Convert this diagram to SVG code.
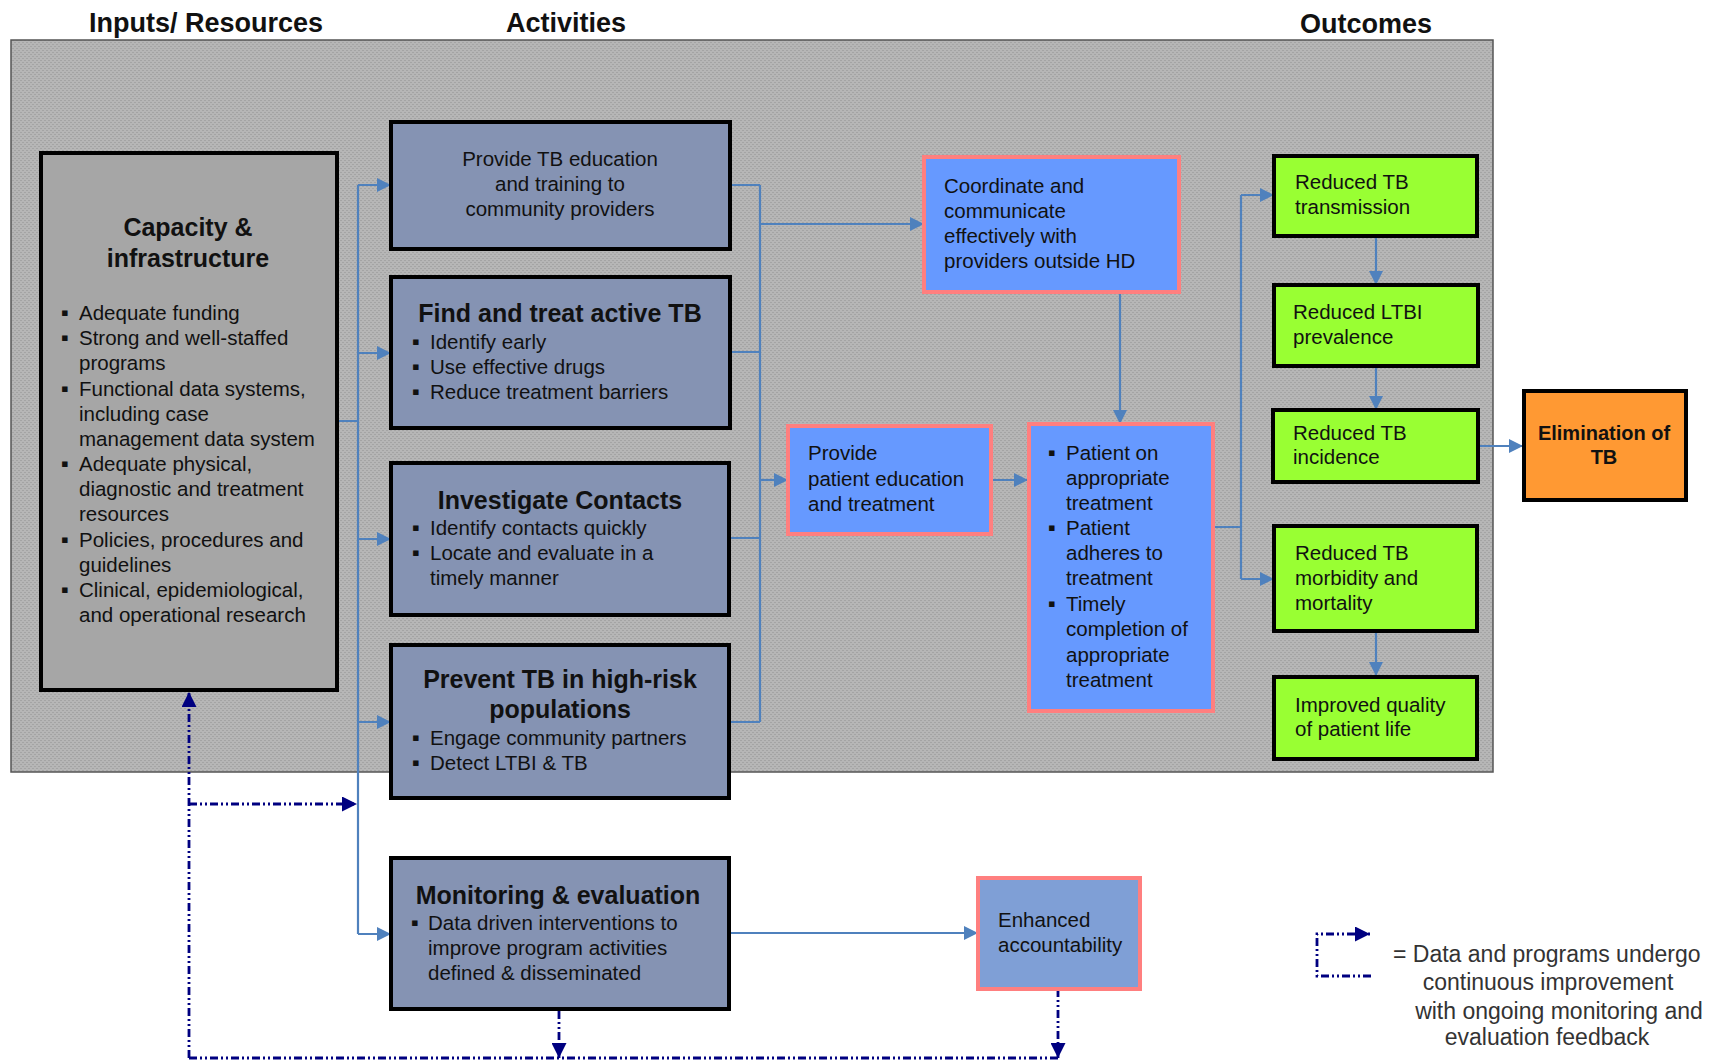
<svg xmlns="http://www.w3.org/2000/svg" width="1717" height="1061" viewBox="0 0 1717 1061">
<style>
text{font-family:"Liberation Sans",Arial,sans-serif;fill:#111}
.hdr{font-size:27px;font-weight:bold}
.t{font-size:20.5px}
.tb{font-size:25px;font-weight:bold}
.bul{font-size:22px}
.act{fill:#8593b3;stroke:#000;stroke-width:4}
.cap{fill:#a6a6a6;stroke:#000;stroke-width:4}
.blu{fill:#6699ff;stroke:#ff7f7f;stroke-width:4}
.grn{fill:#99ff33;stroke:#000;stroke-width:4}
.org{fill:#ff9933;stroke:#000;stroke-width:4}
.enh{fill:#7f9fd6;stroke:#ff7f7f;stroke-width:4}
.c{fill:none;stroke:#4f81bd;stroke-width:2.2}
.n{fill:none;stroke:#000080;stroke-width:2.8;stroke-dasharray:8 3 2 3 2 3}
.lg{font-size:23px;fill:#333}
</style>
<defs>
<pattern id="dots" width="4" height="4" patternUnits="userSpaceOnUse">
<rect width="4" height="4" fill="#b6b6b6"/>
<rect x="0" y="0" width="2" height="1" fill="#a4a4a4"/>
<rect x="2" y="2" width="2" height="1" fill="#a4a4a4"/>
</pattern>
<marker id="ab" viewBox="0 0 10 10" refX="10" refY="5" markerWidth="14" markerHeight="14" markerUnits="userSpaceOnUse" orient="auto"><path d="M0,0 L10,5 L0,10 z" fill="#4f81bd"/></marker>
<marker id="an" viewBox="0 0 10 10" refX="10" refY="5" markerWidth="15" markerHeight="15" markerUnits="userSpaceOnUse" orient="auto"><path d="M0,0 L10,5 L0,10 z" fill="#000080"/></marker>
</defs>
<rect width="1717" height="1061" fill="#fff"/>

<g id="headers">
<text class="hdr" x="206" y="32" text-anchor="middle">Inputs/ Resources</text>
<text class="hdr" x="566" y="32" text-anchor="middle">Activities</text>
<text class="hdr" x="1366" y="33" text-anchor="middle">Outcomes</text>
</g>

<rect id="background" x="11" y="40" width="1482" height="732" fill="url(#dots)" stroke="#555" stroke-width="1.5"/>

<g id="connectors">
<path class="c" d="M337,421 H358 M358,185 V934"/>
<path class="c" d="M358,185 H391" marker-end="url(#ab)"/>
<path class="c" d="M358,353 H391" marker-end="url(#ab)"/>
<path class="c" d="M358,539 H391" marker-end="url(#ab)"/>
<path class="c" d="M358,722 H391" marker-end="url(#ab)"/>
<path class="c" d="M358,934 H391" marker-end="url(#ab)"/>
<path class="c" d="M730,185 H760 M730,352 H760 M729,538 H760 M729,722 H760 M760,185 V722"/>
<path class="c" d="M760,224 H924" marker-end="url(#ab)"/>
<path class="c" d="M760,480 H788" marker-end="url(#ab)"/>
<path class="c" d="M1120,292 V424" marker-end="url(#ab)"/>
<path class="c" d="M993,480 H1028" marker-end="url(#ab)"/>
<path class="c" d="M1213,527 H1241 M1241,195 V579"/>
<path class="c" d="M1241,195 H1274" marker-end="url(#ab)"/>
<path class="c" d="M1241,579 H1274" marker-end="url(#ab)"/>
<path class="c" d="M1376,237 V285" marker-end="url(#ab)"/>
<path class="c" d="M1376,367 V410" marker-end="url(#ab)"/>
<path class="c" d="M1376,632 V676" marker-end="url(#ab)"/>
<path class="c" d="M1478,446 H1523" marker-end="url(#ab)"/>
<path class="c" d="M729,933 H978" marker-end="url(#ab)"/>
<path class="n" d="M189,1058 V692" marker-end="url(#an)"/>
<path class="n" d="M189,804 H357" marker-end="url(#an)"/>
<path class="n" d="M189,1058 H1058"/>
<path class="n" d="M559,1011 V1058" marker-end="url(#an)"/>
<path class="n" d="M1058,989 V1058" marker-end="url(#an)"/>
</g>

<g id="capacity">
<rect class="cap" x="41" y="153" width="296" height="537"/>
<text class="tb" x="188" y="236" text-anchor="middle">Capacity &amp;</text>
<text class="tb" x="188" y="267" text-anchor="middle">infrastructure</text>
<text class="bul" x="61" y="320">▪</text><text class="t" x="79" y="320">Adequate funding</text>
<text class="bul" x="61" y="345">▪</text><text class="t" x="79" y="345">Strong and well-staffed</text>
<text class="t" x="79" y="370">programs</text>
<text class="bul" x="61" y="396">▪</text><text class="t" x="79" y="396">Functional data systems,</text>
<text class="t" x="79" y="421">including case</text>
<text class="t" x="79" y="446">management data system</text>
<text class="bul" x="61" y="471">▪</text><text class="t" x="79" y="471">Adequate physical,</text>
<text class="t" x="79" y="496">diagnostic and treatment</text>
<text class="t" x="79" y="521">resources</text>
<text class="bul" x="61" y="547">▪</text><text class="t" x="79" y="547">Policies, procedures and</text>
<text class="t" x="79" y="572">guidelines</text>
<text class="bul" x="61" y="597">▪</text><text class="t" x="79" y="597">Clinical, epidemiological,</text>
<text class="t" x="79" y="622">and operational research</text>
</g>

<g id="educ-training">
<rect class="act" x="391" y="122" width="339" height="127"/>
<text class="t" x="560" y="166" text-anchor="middle">Provide TB education</text>
<text class="t" x="560" y="191" text-anchor="middle">and training to</text>
<text class="t" x="560" y="216" text-anchor="middle">community providers</text>
</g>

<g id="find-treat">
<rect class="act" x="391" y="277" width="339" height="151"/>
<text class="tb" x="560" y="322" text-anchor="middle">Find and treat active TB</text>
<text class="bul" x="412" y="349">▪</text><text class="t" x="430" y="349">Identify early</text>
<text class="bul" x="412" y="374">▪</text><text class="t" x="430" y="374">Use effective drugs</text>
<text class="bul" x="412" y="399">▪</text><text class="t" x="430" y="399">Reduce treatment barriers</text>
</g>

<g id="investigate">
<rect class="act" x="391" y="463" width="338" height="152"/>
<text class="tb" x="560" y="509" text-anchor="middle">Investigate Contacts</text>
<text class="bul" x="412" y="535">▪</text><text class="t" x="430" y="535">Identify contacts quickly</text>
<text class="bul" x="412" y="560">▪</text><text class="t" x="430" y="560">Locate and evaluate in a</text>
<text class="t" x="430" y="585">timely manner</text>
</g>

<g id="prevent">
<rect class="act" x="391" y="645" width="338" height="153"/>
<text class="tb" x="560" y="688" text-anchor="middle">Prevent TB in high-risk</text>
<text class="tb" x="560" y="718" text-anchor="middle">populations</text>
<text class="bul" x="412" y="745">▪</text><text class="t" x="430" y="745">Engage community partners</text>
<text class="bul" x="412" y="770">▪</text><text class="t" x="430" y="770">Detect LTBI &amp; TB</text>
</g>

<g id="monitoring">
<rect class="act" x="391" y="858" width="338" height="151"/>
<text class="tb" x="558" y="904" text-anchor="middle">Monitoring &amp; evaluation</text>
<text class="bul" x="411" y="930">▪</text><text class="t" x="428" y="930">Data driven interventions to</text>
<text class="t" x="428" y="955">improve program activities</text>
<text class="t" x="428" y="980">defined &amp; disseminated</text>
</g>

<g id="coordinate">
<rect class="blu" x="924" y="157" width="255" height="135"/>
<text class="t" x="944" y="193">Coordinate and</text>
<text class="t" x="944" y="218">communicate</text>
<text class="t" x="944" y="243">effectively with</text>
<text class="t" x="944" y="268">providers outside HD</text>
</g>

<g id="patient-education">
<rect class="blu" x="788" y="426" width="203" height="108"/>
<text class="t" x="808" y="460">Provide</text>
<text class="t" x="808" y="486">patient education</text>
<text class="t" x="808" y="511">and treatment</text>
</g>

<g id="patient-treatment">
<rect class="blu" x="1029" y="424" width="184" height="287"/>
<text class="bul" x="1048" y="460">▪</text><text class="t" x="1066" y="460">Patient on</text>
<text class="t" x="1066" y="485">appropriate</text>
<text class="t" x="1066" y="510">treatment</text>
<text class="bul" x="1048" y="535">▪</text><text class="t" x="1066" y="535">Patient</text>
<text class="t" x="1066" y="560">adheres to</text>
<text class="t" x="1066" y="585">treatment</text>
<text class="bul" x="1048" y="611">▪</text><text class="t" x="1066" y="611">Timely</text>
<text class="t" x="1066" y="636">completion of</text>
<text class="t" x="1066" y="662">appropriate</text>
<text class="t" x="1066" y="687">treatment</text>
</g>

<g id="out-transmission">
<rect class="grn" x="1274" y="156" width="203" height="80"/>
<text class="t" x="1295" y="189">Reduced TB</text>
<text class="t" x="1295" y="214">transmission</text>
</g>
<g id="out-ltbi">
<rect class="grn" x="1274" y="285" width="204" height="81"/>
<text class="t" x="1293" y="319">Reduced LTBI</text>
<text class="t" x="1293" y="344">prevalence</text>
</g>
<g id="out-incidence">
<rect class="grn" x="1273" y="410" width="205" height="72"/>
<text class="t" x="1293" y="440">Reduced TB</text>
<text class="t" x="1293" y="464">incidence</text>
</g>
<g id="out-morbidity">
<rect class="grn" x="1274" y="526" width="203" height="105"/>
<text class="t" x="1295" y="560">Reduced TB</text>
<text class="t" x="1295" y="585">morbidity and</text>
<text class="t" x="1295" y="610">mortality</text>
</g>
<g id="out-quality">
<rect class="grn" x="1274" y="677" width="203" height="82"/>
<text class="t" x="1295" y="712">Improved quality</text>
<text class="t" x="1295" y="736">of patient life</text>
</g>

<g id="elimination">
<rect class="org" x="1524" y="391" width="162" height="109"/>
<text x="1604" y="440" text-anchor="middle" style="font-size:20px;font-weight:bold">Elimination of</text>
<text x="1604" y="464" text-anchor="middle" style="font-size:20px;font-weight:bold">TB</text>
</g>

<g id="accountability">
<rect class="enh" x="978" y="878" width="162" height="111"/>
<text class="t" x="998" y="927">Enhanced</text>
<text class="t" x="998" y="952">accountability</text>
</g>

<g id="legend">
<path class="n" d="M1371,976 H1317 V934 H1370" marker-end="url(#an)"/>
<text class="lg" x="1393" y="962">= Data and programs undergo</text>
<text class="lg" x="1548" y="990" text-anchor="middle">continuous improvement</text>
<text class="lg" x="1559" y="1019" text-anchor="middle">with ongoing monitoring and</text>
<text class="lg" x="1547" y="1045" text-anchor="middle">evaluation feedback</text>
</g>
</svg>
